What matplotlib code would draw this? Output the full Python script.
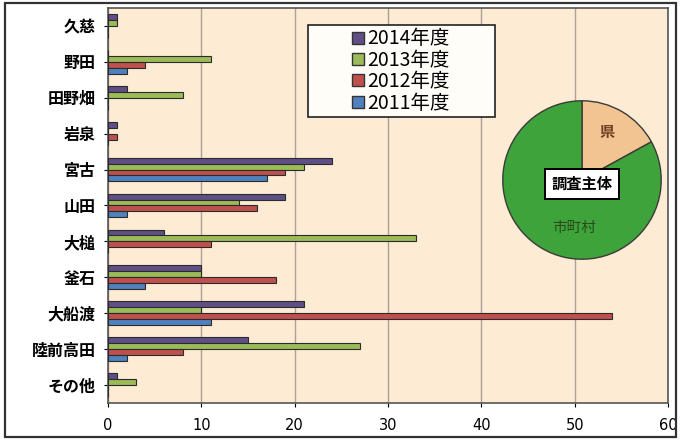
import numpy as np
import matplotlib.pyplot as plt
from matplotlib.patches import Rectangle
from matplotlib.lines import Line2D

plt.rcParams['font.family'] = ['Noto Sans CJK JP', 'DejaVu Sans']

towns = ["久慈", "野田", "田野畑", "岩泉", "宮古", "山田", "大槌", "釜石", "大船渡", "陸前高田", "その他"]
years = ["2014年度", "2013年度", "2012年度", "2011年度"]
v2014 = [1, 0, 2, 1, 24, 19, 6, 10, 21, 15, 1]
v2013 = [1, 11, 8, 0, 21, 14, 33, 10, 10, 27, 3]
v2012 = [0, 4, 0, 1, 19, 16, 11, 18, 54, 8, 0]
v2011 = [0, 2, 0, 0, 17, 2, 0, 4, 11, 2, 0]
colors = ["#5f4f86", "#9bbb59", "#c0504d", "#4f81bd"]
xticks = [0, 10, 20, 30, 40, 50, 60]

pie_labels = ["県", "市町村"]
pie_share = [17, 83]
pie_colors = ["#f2c491", "#3ea33a"]

fig = plt.figure(figsize=(6.81, 4.41), dpi=100)
fig.patch.set_facecolor("white")

# outer frame
fig.add_artist(Rectangle((0.008, 0.008), 0.985, 0.985, transform=fig.transFigure,
                         fill=False, edgecolor="#333333", linewidth=1.6))

ax = fig.add_axes([0.1586, 0.0862, 0.8224, 0.8958])
ax.set_facecolor("#fdebd3")

y = np.arange(len(towns))
h = 0.165
series = [v2014, v2013, v2012, v2011]
for i, (vals, c, lab) in enumerate(zip(series, colors, years)):
    ax.barh(y - 1.5 * h + i * h, vals, height=h, color=c, edgecolor="#2b2b2b",
            linewidth=0.8, label=lab, zorder=3)

ax.set_xlim(0, 60)
ax.set_ylim(len(towns) - 0.5, -0.5)
ax.set_xticks(xticks, labels=[str(v) for v in xticks], fontfamily="DejaVu Sans",
              fontsize=10.5)
ax.set_yticks(y)
ax.set_yticklabels(towns, fontsize=11.5, fontweight="bold")
ax.tick_params(axis="x", length=3, pad=8)
ax.tick_params(axis="y", length=3, pad=6)
ax.grid(axis="x", color="#a8a29a", linewidth=1.0, zorder=1)
for s in ax.spines.values():
    s.set_color("#555555")
    s.set_linewidth(1.2)

# legend box drawn separately so it can be wider than its entries
fig.add_artist(Rectangle((308 / 681, 1 - 117 / 441), 187 / 681, 92 / 441,
                         transform=fig.transFigure, facecolor="#fffdf8",
                         edgecolor="#222222", linewidth=1.2, zorder=4))
handles = [Line2D([], [], marker="s", linestyle="none", markersize=8,
                  markerfacecolor=c, markeredgecolor="#333333") for c in colors]
leg = fig.legend(handles, years, loc="center",
                 bbox_to_anchor=(401 / 681, 1 - 71 / 441),
                 fontsize=14, frameon=False, handlelength=0.6,
                 handletextpad=0.15, labelspacing=0.02, borderpad=0)
leg.set_zorder(5)

pax = fig.add_axes([502 / 681, 1 - 260 / 441, 160 / 681, 160 / 441])
wedges, _ = pax.pie(pie_share, colors=pie_colors, startangle=90, counterclock=False,
                    wedgeprops=dict(edgecolor="#3a3a3a", linewidth=1.0))
pax.set_xlim(-1.01, 1.01)
pax.set_ylim(-1.01, 1.01)
pax.set_aspect("equal")
pax.text(0.32, 0.6, pie_labels[0], ha="center", va="center", fontsize=11,
         fontweight="bold", color="#6e3f22")
pax.text(-0.1, -0.6, pie_labels[1], ha="center", va="center", fontsize=10.5,
         color="#2a4a1a")
pax.text(0.0, -0.05, "調査主体", ha="center", va="center", fontsize=11,
         fontweight="bold", color="black",
         bbox=dict(boxstyle="square,pad=0.45", facecolor="white",
                   edgecolor="black", linewidth=1.4))

fig.savefig("out.png", dpi=100)
